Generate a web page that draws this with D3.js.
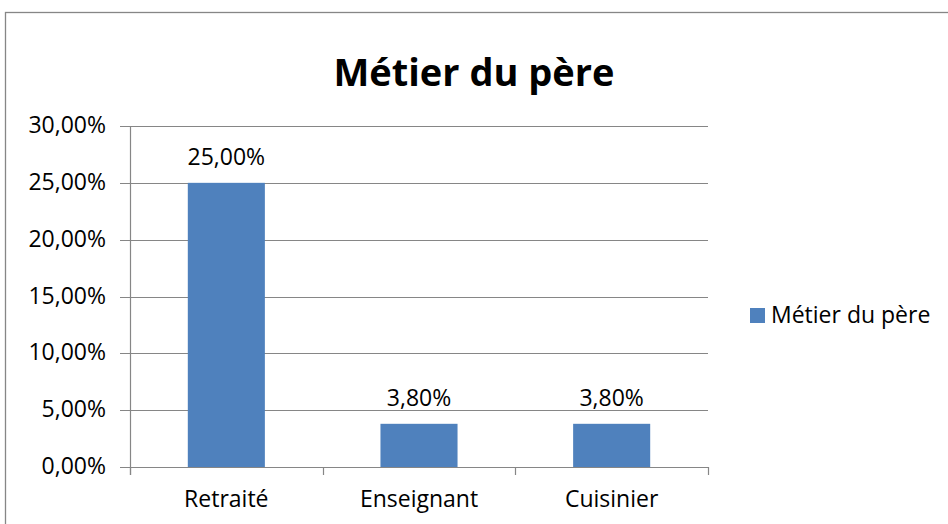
<!DOCTYPE html>
<html>
<head>
<meta charset="utf-8">
<script src="https://cdn.jsdelivr.net/npm/d3@7"></script>
<style>
  body { margin: 0; background: #fff; }
  svg { display: block; font-family: "Open Sans", Lato, sans-serif; }
</style>
</head>
<body>
<svg id="chart"></svg>
<script>
// données
var categories = ["Retraité", "Enseignant", "Cuisinier"];
var valeurs = [25.0, 3.8, 3.8];
var graduations = [0, 5, 10, 15, 20, 25, 30];
var titre = "Métier du père";
var serie = "Métier du père";

var largeur = 948, hauteur = 524;
var couleurBarre = "#4F81BD";
var gris = "#868686";
var taille = 23;

var svg = d3.select("#chart")
    .attr("width", largeur)
    .attr("height", hauteur);

// cadre du graphique (coupé à droite et en bas)
svg.append("rect")
    .attr("x", 5.5).attr("y", 12.5)
    .attr("width", 960).attr("height", 530)
    .attr("fill", "none")
    .attr("stroke", gris)
    .attr("stroke-width", 1.3);

var zone = { gauche: 130, droite: 708, haut: 126, bas: 467 };

var x = d3.scaleBand()
    .domain(categories)
    .range([zone.gauche, zone.droite])
    .paddingInner(0.6)
    .paddingOuter(0.3);

var y = d3.scaleLinear()
    .domain([0, 30])
    .range([zone.bas, zone.haut]);

var fmt = function (v) { return v.toFixed(2).replace(".", ",") + "%"; };

// lignes de quadrillage
svg.append("g")
    .selectAll("line")
    .data(graduations)
    .enter()
    .append("line")
    .attr("x1", zone.gauche - 10)
    .attr("x2", zone.droite)
    .attr("y1", function (d) { return Math.round(y(d)) + 0.5; })
    .attr("y2", function (d) { return Math.round(y(d)) + 0.5; })
    .attr("stroke", gris)
    .attr("stroke-width", 1.2);

// axe Y : libellés
svg.append("g")
    .selectAll("text")
    .data(graduations)
    .enter()
    .append("text")
    .attr("x", zone.gauche - 24)
    .attr("y", function (d) { return y(d) + 7; })
    .attr("text-anchor", "end")
    .attr("font-size", taille)
    .attr("fill", "#000")
    .text(fmt);

// axe vertical
svg.append("line")
    .attr("x1", zone.gauche + 0.5).attr("x2", zone.gauche + 0.5)
    .attr("y1", zone.haut).attr("y2", zone.bas + 8)
    .attr("stroke", gris).attr("stroke-width", 1.2);

// axe X : graduations entre catégories
var bordsX = d3.range(categories.length + 1).map(function (i) {
    return zone.gauche + i * (zone.droite - zone.gauche) / categories.length;
});
svg.append("g")
    .selectAll("line")
    .data(bordsX)
    .enter()
    .append("line")
    .attr("x1", function (d) { return Math.round(d) + 0.5; })
    .attr("x2", function (d) { return Math.round(d) + 0.5; })
    .attr("y1", zone.bas)
    .attr("y2", zone.bas + 8)
    .attr("stroke", gris)
    .attr("stroke-width", 1.2);

// barres
svg.append("g")
    .selectAll("rect")
    .data(valeurs)
    .enter()
    .append("rect")
    .attr("x", function (d, i) { return x(categories[i]); })
    .attr("y", function (d) { return y(d); })
    .attr("width", x.bandwidth())
    .attr("height", function (d) { return y(0) - y(d); })
    .attr("fill", couleurBarre);

// étiquettes de données
svg.append("g")
    .selectAll("text")
    .data(valeurs)
    .enter()
    .append("text")
    .attr("x", function (d, i) { return x(categories[i]) + x.bandwidth() / 2; })
    .attr("y", function (d) { return y(d) - 18; })
    .attr("text-anchor", "middle")
    .attr("font-size", taille)
    .text(fmt);

// libellés des catégories
svg.append("g")
    .selectAll("text")
    .data(categories)
    .enter()
    .append("text")
    .attr("x", function (d) { return x(d) + x.bandwidth() / 2; })
    .attr("y", zone.bas + 40)
    .attr("text-anchor", "middle")
    .attr("font-size", taille)
    .text(function (d) { return d; });

// titre
svg.append("text")
    .attr("x", 474)
    .attr("y", 86)
    .attr("text-anchor", "middle")
    .attr("font-size", 38)
    .attr("font-weight", "bold")
    .text(titre);

// légende
svg.append("rect")
    .attr("x", 750).attr("y", 308)
    .attr("width", 15).attr("height", 15)
    .attr("fill", couleurBarre);
svg.append("text")
    .attr("x", 771).attr("y", 323)
    .attr("font-size", taille)
    .text(serie);
</script>
</body>
</html>
